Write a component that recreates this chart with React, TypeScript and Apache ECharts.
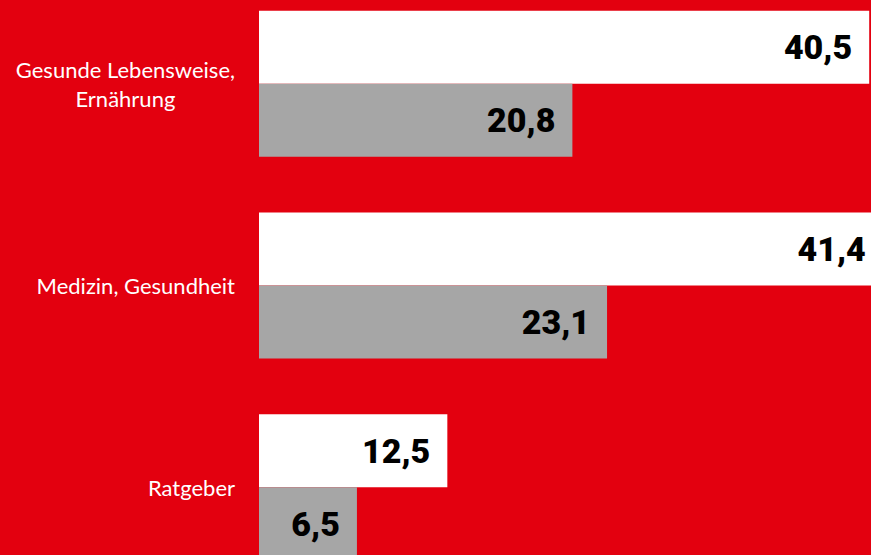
import React, { useEffect, useRef } from "react";
import * as echarts from "echarts";

const categories = ["Gesunde Lebensweise,\nErnährung", "Medizin, Gesundheit", "Ratgeber"];
const whiteValues = [40.5, 41.4, 12.5];
const greyValues = [20.8, 23.1, 6.5];

const RED = "#E3000F";

export default function App() {
  const ref = useRef<HTMLDivElement>(null);
  useEffect(() => {
    document.body.style.margin = "0";
    document.body.style.overflow = "hidden";
    const chart = echarts.init(ref.current!, undefined, { renderer: "svg" });
    const valueLabel = {
      show: true,
      position: "insideRight" as const,
      distance: 17,
      color: "#000",
      fontFamily: "Roboto",
      fontWeight: 900 as any,
      fontSize: 34,
      formatter: (p: any) => String(p.value).replace(".", ","),
    };
    chart.setOption({
      animation: false,
      backgroundColor: RED,
      grid: {
        left: 259,
        top: -17,
        width: 678,
        height: 605,
        containLabel: false,
        outerBoundsMode: "none",
      },
      xAxis: {
        type: "value",
        min: 0,
        max: 45,
        show: false,
      },
      yAxis: {
        type: "category",
        inverse: true,
        data: categories,
        axisLine: { show: false },
        axisTick: { show: false },
        axisLabel: {
          margin: 24,
          align: "right",
          formatter: (v: string) => v.split("\n").map((l) => `{a|${l}}`).join("\n"),
          rich: {
            a: {
              align: "center",
              color: "#fff",
              fontFamily: "Lato",
              fontSize: 22,
              lineHeight: 29,
            },
          },
        },
      },
      series: [
        {
          type: "bar",
          data: whiteValues,
          barWidth: 73,
          barGap: "0%",
          itemStyle: { color: "#FFFFFF" },
          label: valueLabel,
        },
        {
          type: "bar",
          data: greyValues,
          barWidth: 73,
          barGap: "0%",
          itemStyle: { color: "#A6A6A6" },
          label: valueLabel,
        },
      ],
    });
    return () => chart.dispose();
  }, []);
  return <div ref={ref} style={{ width: 871, height: 555 }} />;
}
